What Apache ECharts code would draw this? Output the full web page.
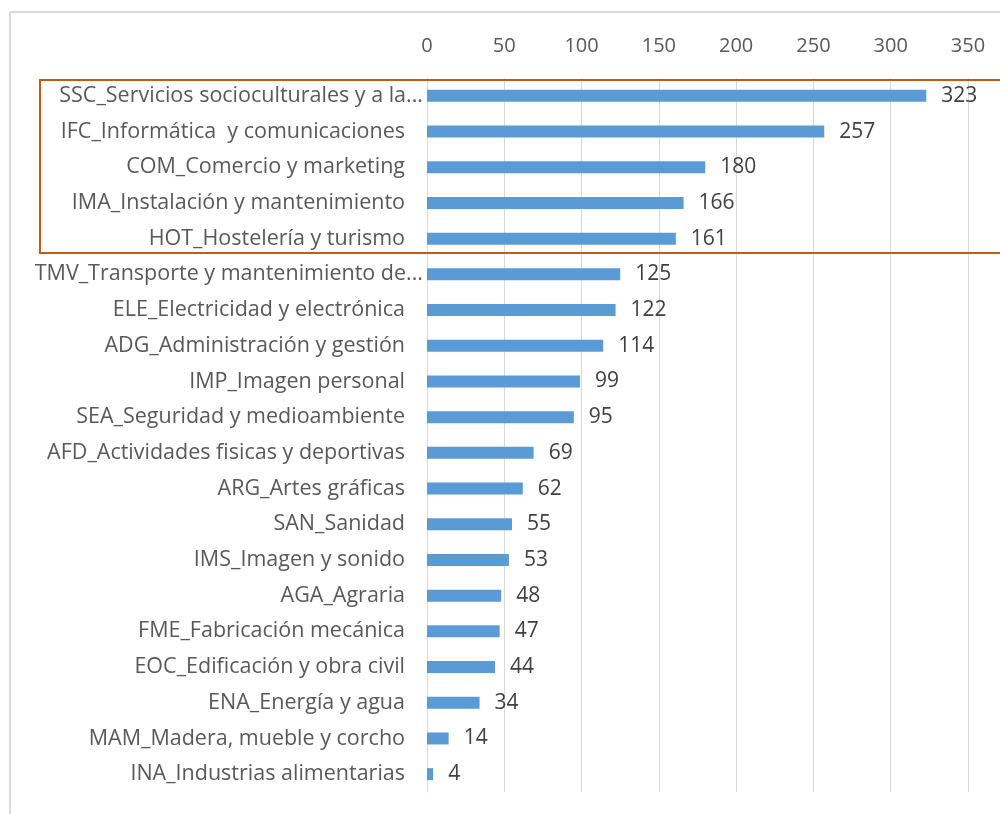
<!DOCTYPE html>
<html>
<head>
<meta charset="utf-8">
<script src="https://cdn.jsdelivr.net/npm/echarts@6/dist/echarts.min.js"></script>
<style>
  html, body { margin: 0; padding: 0; background: #fff; overflow: hidden; }
  #main { width: 1000px; height: 814px; }
</style>
</head>
<body>
<div id="main"></div>
<script>
// familias profesionales, de mayor a menor
var categories = [
    'SSC_Servicios socioculturales y a la...',
    'IFC_Informática  y comunicaciones',
    'COM_Comercio y marketing',
    'IMA_Instalación y mantenimiento',
    'HOT_Hostelería y turismo',
    'TMV_Transporte y mantenimiento de...',
    'ELE_Electricidad y electrónica',
    'ADG_Administración y gestión',
    'IMP_Imagen personal',
    'SEA_Seguridad y medioambiente',
    'AFD_Actividades fisicas y deportivas',
    'ARG_Artes gráficas',
    'SAN_Sanidad',
    'IMS_Imagen y sonido',
    'AGA_Agraria',
    'FME_Fabricación mecánica',
    'EOC_Edificación y obra civil',
    'ENA_Energía y agua',
    'MAM_Madera, mueble y corcho',
    'INA_Industrias alimentarias'
];
var values = [323, 257, 180, 166, 161, 125, 122, 114, 99, 95, 69, 62, 55, 53, 48, 47, 44, 34, 14, 4];
var tickMin = 0, tickMax = 350, tickStep = 50;

var myChart = echarts.init(document.getElementById('main'));
var font = '"Open Sans", "Noto Sans", sans-serif';

var option = {
    animation: false,
    backgroundColor: '#fff',
    grid: { left: 427, top: 78, width: 541, height: 714, containLabel: false },
    xAxis: {
        type: 'value',
        position: 'top',
        min: tickMin,
        max: tickMax,
        interval: tickStep,
        axisLine: { show: false },
        axisTick: { show: false },
        axisLabel: { color: '#595959', fontSize: 20, fontFamily: font, margin: 22 },
        splitLine: { show: true, lineStyle: { color: '#d9d9d9', width: 1 } }
    },
    yAxis: {
        type: 'category',
        inverse: true,
        data: categories,
        axisLine: { show: true, lineStyle: { color: '#d9d9d9', width: 1 } },
        axisTick: { show: false },
        axisLabel: {
            color: '#595959', fontSize: 21.5, fontFamily: font, margin: 22,
            // los nombres recortados llegan casi hasta el eje
            formatter: function (v) {
                return v.slice(-3) === '...' ? '{cut|' + v + '}' : v;
            },
            rich: {
                cut: { color: '#595959', fontSize: 21.5, fontFamily: font, padding: [0, -18, 0, 0] }
            }
        }
    },
    series: [{
        type: 'bar',
        data: values,
        barWidth: 12,
        itemStyle: { color: '#5B9BD5' },
        label: {
            show: true,
            position: 'right',
            distance: 15,
            color: '#404040',
            fontSize: 21,
            fontFamily: font
        }
    }],
    graphic: [
        // marco del gráfico
        { type: 'line', shape: { x1: 10, y1: 12, x2: 1000, y2: 12 }, style: { stroke: '#d9d9d9', lineWidth: 2 } },
        { type: 'line', shape: { x1: 10, y1: 12, x2: 10, y2: 814 }, style: { stroke: '#d9d9d9', lineWidth: 2 } },
        // recuadro de las cinco primeras
        { type: 'rect', z: 100, shape: { x: 40, y: 80, width: 980, height: 173 }, style: { fill: null, stroke: '#C55A11', lineWidth: 2 } }
    ]
};

myChart.setOption(option);
</script>
</body>
</html>
